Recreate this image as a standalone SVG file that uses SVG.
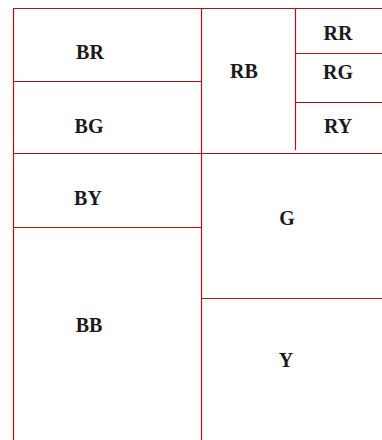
<svg xmlns="http://www.w3.org/2000/svg" width="382" height="440" viewBox="0 0 382 440">
<style>
.l{stroke:#b0101a;stroke-width:1.2;fill:none}
.t{font-family:"Liberation Serif",serif;font-weight:bold;font-size:20px;fill:#1a1a1a;text-anchor:middle}
</style>
<rect width="382" height="440" fill="#fff"/>
<g id="connectors">
<line class="l" x1="13.5" y1="8.5" x2="13.5" y2="440"/>
<line class="l" x1="201.5" y1="8.5" x2="201.5" y2="440"/>
<line class="l" x1="295.5" y1="8.5" x2="295.5" y2="150"/>
<line class="l" x1="13" y1="8.5" x2="382" y2="8.5"/>
<line class="l" x1="13" y1="81.5" x2="201.5" y2="81.5"/>
<line class="l" x1="13" y1="153.5" x2="382" y2="153.5"/>
<line class="l" x1="13" y1="227.5" x2="201.5" y2="227.5"/>
<line class="l" x1="295.5" y1="53.5" x2="382" y2="53.5"/>
<line class="l" x1="295.5" y1="102.5" x2="382" y2="102.5"/>
<line class="l" x1="201.5" y1="298.5" x2="382" y2="298.5"/>
</g>
<g id="BR"><text class="t" x="90" y="59">BR</text></g>
<g id="BG"><text class="t" x="89" y="133">BG</text></g>
<g id="BY"><text class="t" x="88" y="205">BY</text></g>
<g id="BB"><text class="t" x="89" y="332">BB</text></g>
<g id="RB"><text class="t" x="244" y="78">RB</text></g>
<g id="RR"><text class="t" x="338" y="40">RR</text></g>
<g id="RG"><text class="t" x="338" y="79">RG</text></g>
<g id="RY"><text class="t" x="338" y="133">RY</text></g>
<g id="G"><text class="t" x="287" y="225">G</text></g>
<g id="Y"><text class="t" x="286" y="367">Y</text></g>
</svg>
